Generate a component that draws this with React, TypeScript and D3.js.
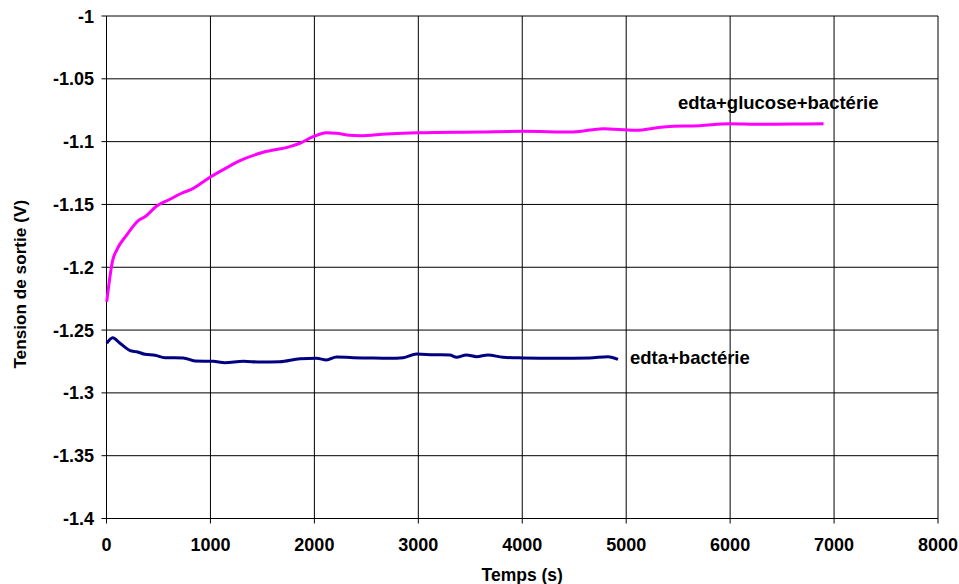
import React, { useEffect, useRef } from "react";
import * as d3 from "d3";

const glucoseT = [2, 60, 98, 194, 306, 370, 483, 611, 707, 835, 995, 1156, 1284, 1508, 1764, 1861, 1988, 2117, 2213, 2341, 2438, 2694, 2998, 3591, 4002, 4488, 4777, 5082, 5387, 5707, 5995, 6284, 6604, 6899];
const glucoseV = [-1.2275, -1.1943, -1.1863, -1.1744, -1.1629, -1.1598, -1.1513, -1.1459, -1.1417, -1.1372, -1.1284, -1.1208, -1.1152, -1.1085, -1.104, -1.1013, -1.0961, -1.0929, -1.0934, -1.095, -1.0953, -1.0939, -1.0929, -1.0923, -1.0918, -1.0923, -1.0897, -1.091, -1.0881, -1.0873, -1.0857, -1.0862, -1.086, -1.0857];

const bactT = [2, 60, 130, 242, 290, 370, 466, 562, 739, 851, 1027, 1139, 1316, 1476, 1668, 1861, 2021, 2117, 2213, 2373, 2502, 2726, 2854, 2983, 3142, 3303, 3367, 3463, 3560, 3671, 3815, 4008, 4329, 4649, 4825, 4921];
const bactV = [-1.2605, -1.2561, -1.2605, -1.2667, -1.2672, -1.2693, -1.2701, -1.272, -1.2722, -1.2746, -1.2749, -1.276, -1.2749, -1.2754, -1.2752, -1.2728, -1.2725, -1.2738, -1.2714, -1.272, -1.2722, -1.2725, -1.272, -1.2691, -1.2696, -1.2698, -1.2717, -1.2698, -1.2712, -1.2698, -1.2717, -1.2722, -1.2725, -1.2722, -1.2712, -1.2733];

const xTicks = [0, 1000, 2000, 3000, 4000, 5000, 6000, 7000, 8000];
const yTicks = [-1, -1.05, -1.1, -1.15, -1.2, -1.25, -1.3, -1.35, -1.4];
const yTickLabels = ["-1", "-1.05", "-1.1", "-1.15", "-1.2", "-1.25", "-1.3", "-1.35", "-1.4"];

const seriesNames = ["edta+glucose+bactérie", "edta+bactérie"];
const xTitle = "Temps (s)";
const yTitle = "Tension de sortie (V)";

export default function App() {
  const ref = useRef<SVGSVGElement | null>(null);

  useEffect(() => {
    const svg = d3.select(ref.current);
    svg.selectAll("*").remove();
    const W = 959, H = 584;
    const L = 106.5, R = 938, T = 16, B = 518.5;
    const x = d3.scaleLinear().domain([0, 8000]).range([L, R]);
    const y = d3.scaleLinear().domain([-1.4, -1]).range([B, T]);
    const font = "'Liberation Sans', Arial, sans-serif";

    svg.append("rect").attr("width", W).attr("height", H).attr("fill", "#fff");

    const g = svg.append("g");
    g.selectAll("line.h").data(yTicks).enter().append("line")
      .attr("x1", L).attr("x2", R).attr("y1", d => y(d)).attr("y2", d => y(d))
      .attr("stroke", "#000").attr("stroke-width", 1);
    g.selectAll("line.v").data(xTicks).enter().append("line")
      .attr("x1", d => x(d)).attr("x2", d => x(d)).attr("y1", T).attr("y2", B)
      .attr("stroke", "#000").attr("stroke-width", 1);
    g.selectAll("line.yt").data(yTicks).enter().append("line")
      .attr("x1", L - 5).attr("x2", L).attr("y1", d => y(d)).attr("y2", d => y(d))
      .attr("stroke", "#000");
    g.selectAll("line.xt").data(xTicks).enter().append("line")
      .attr("x1", d => x(d)).attr("x2", d => x(d)).attr("y1", B).attr("y2", B + 5)
      .attr("stroke", "#000");

    g.selectAll("text.yl").data(yTicks).enter().append("text")
      .attr("x", 94).attr("y", d => y(d) + 6.5)
      .attr("text-anchor", "end").attr("font-family", font).attr("font-weight", "bold")
      .attr("font-size", 18).text((d, i) => yTickLabels[i]);
    g.selectAll("text.xl").data(xTicks).enter().append("text")
      .attr("x", d => x(d)).attr("y", 551)
      .attr("text-anchor", "middle").attr("font-family", font).attr("font-weight", "bold")
      .attr("font-size", 18).text(d => String(d));

    svg.append("text").attr("x", (L + R) / 2).attr("y", 581)
      .attr("text-anchor", "middle").attr("font-family", font).attr("font-weight", "bold")
      .attr("font-size", 17.5).text(xTitle);
    svg.append("text").attr("transform", `translate(26,${(T + B) / 2 + 17}) rotate(-90)`)
      .attr("text-anchor", "middle").attr("font-family", font).attr("font-weight", "bold")
      .attr("font-size", 17.2).text(yTitle);

    const line = d3.line<[number, number]>().x(d => x(d[0])).y(d => y(d[1])).curve(d3.curveMonotoneX);
    const gData: [number, number][] = glucoseT.map((t, i) => [t, glucoseV[i]]);
    const bData: [number, number][] = bactT.map((t, i) => [t, bactV[i]]);
    svg.append("path").attr("d", line(gData)).attr("fill", "none").attr("stroke", "#ff00ff").attr("stroke-width", 3);
    svg.append("path").attr("d", line(bData)).attr("fill", "none").attr("stroke", "#000080").attr("stroke-width", 3);

    svg.append("text").attr("x", 678).attr("y", 109).attr("font-family", font).attr("font-weight", "bold")
      .attr("font-size", 18.5).text(seriesNames[0]);
    svg.append("text").attr("x", 630).attr("y", 364).attr("font-family", font).attr("font-weight", "bold")
      .attr("font-size", 18.5).text(seriesNames[1]);
  }, []);

  return (
    <svg ref={ref} width={959} height={584} style={{ position: "absolute", left: 0, top: 0, display: "block" }} />
  );
}
